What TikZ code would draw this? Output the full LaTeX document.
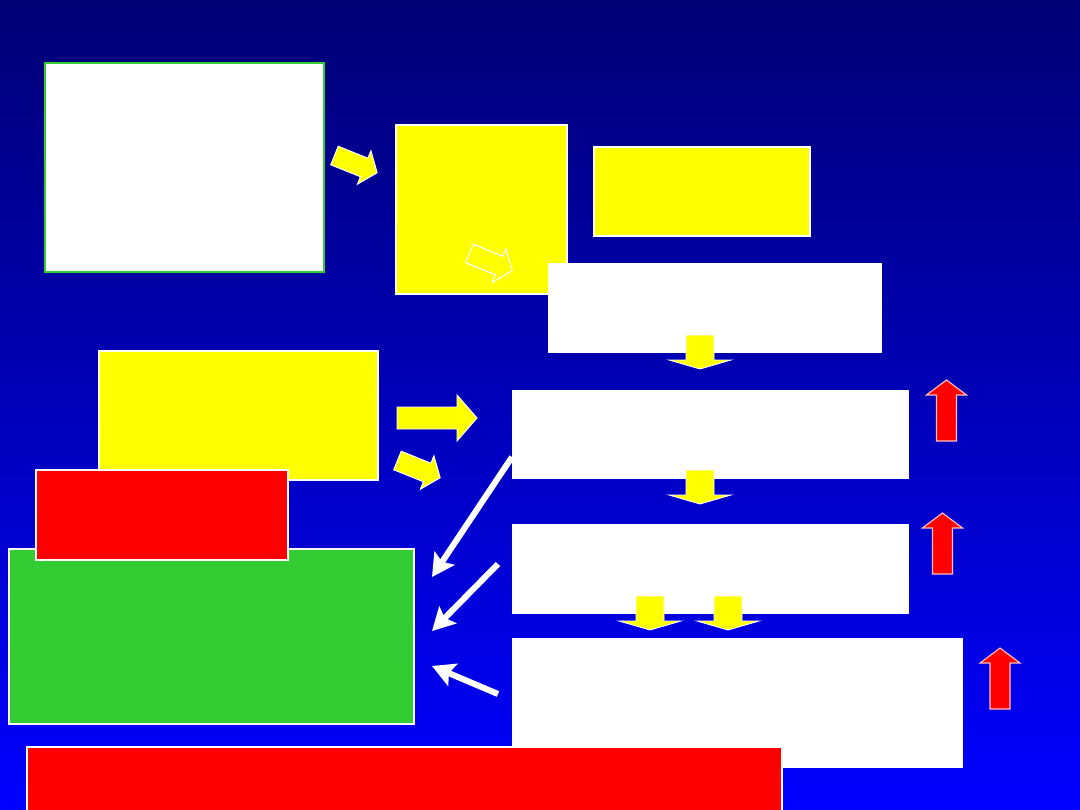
\documentclass[tikz,border=0pt]{standalone}
\usepackage{tikz}
\usetikzlibrary{calc, arrows.meta}
\definecolor{navytop}{RGB}{0,0,116}
\definecolor{bluebot}{RGB}{0,0,255}
\definecolor{leafgreen}{RGB}{51,204,51}
\definecolor{lemon}{RGB}{255,255,0}
\definecolor{signal}{RGB}{255,0,0}

\begin{document}
\begin{tikzpicture}[x=0.025cm, y=-0.025cm,
  box/.style={draw=white, line width=1.1pt},
  wline/.style={white, line width=4.3pt, -{Stealth[length=16pt, width=17pt, inset=3pt]}},
  slantfill/.pic={\filldraw[lemon, draw=white, line width=0.7pt] (0,-10)--(32,-10)--(32,-18)--(46,0)--(32,18)--(32,10)--(0,10)--cycle;},
  slantline/.pic={\draw[white, line width=0.8pt] (0,-10)--(32,-10)--(32,-18)--(46,0)--(32,18)--(32,10)--(0,10)--cycle;},
  downarr/.pic={\filldraw[lemon, draw=white, line width=0.6pt] (-14,0)--(14,0)--(14,25)--(31,25)--(0,34)--(-31,25)--(-14,25)--cycle;},
  uparr/.pic={\filldraw[signal, draw=white!75!signal, line width=0.8pt] (0,0)--(20,15)--(10,15)--(10,61)--(-10,61)--(-10,15)--(-20,15)--cycle;}]
  \useasboundingbox (0,0) rectangle (1080,810);
  \shade[top color=navytop, bottom color=bluebot] (0,0) rectangle (1080,810); %background
  % top row
  \coordinate (srcTL) at (45,63); %white box, green frame
  \coordinate (srcBR) at (324,272);
  \filldraw[fill=white, draw=leafgreen, line width=1.4pt] (srcTL) rectangle (srcBR);
  \coordinate (yelATL) at (396,125); %tall yellow box
  \coordinate (yelABR) at (567,294);
  \filldraw[box, fill=lemon] (yelATL) rectangle (yelABR);
  \coordinate (yelBTL) at (594,147); %wide yellow box
  \coordinate (yelBBR) at (810,236);
  \filldraw[box, fill=lemon] (yelBTL) rectangle (yelBBR);
  \pic[rotate=-22] at (334.5,155.5) {slantfill};
  \pic[rotate=-22] at (469.5,253.5) {slantline};
  % white column
  \coordinate (stepATL) at (548,263);
  \coordinate (stepABR) at (882,353);
  \fill[white] (stepATL) rectangle (stepABR);
  \coordinate (stepBTL) at (512,390);
  \coordinate (stepBBR) at (909,479);
  \fill[white] (stepBTL) rectangle (stepBBR);
  \coordinate (stepCTL) at (512,524);
  \coordinate (stepCBR) at (909,614);
  \fill[white] (stepCTL) rectangle (stepCBR);
  \coordinate (stepDTL) at (512,638);
  \coordinate (stepDBR) at (963,768);
  \fill[white] (stepDTL) rectangle (stepDBR);
  \pic at (700,335) {downarr};
  \pic at (700,470) {downarr};
  \pic at (650,596) {downarr};
  \pic at (728,596) {downarr};
  \pic at (946.5,380) {uparr};
  \pic at (942.5,513) {uparr};
  \pic at (1000,648) {uparr};
  % left stack
  \coordinate (yelCTL) at (99,351); %yellow box
  \coordinate (yelCBR) at (378,480);
  \filldraw[box, fill=lemon] (yelCTL) rectangle (yelCBR);
  \coordinate (grnTL) at (9,549); %green box
  \coordinate (grnBR) at (414,724);
  \filldraw[box, fill=leafgreen] (grnTL) rectangle (grnBR);
  \coordinate (redATL) at (36,470); %red box
  \coordinate (redABR) at (288,560);
  \filldraw[box, fill=signal] (redATL) rectangle (redABR);
  \filldraw[lemon, draw=white, line width=0.7pt] (397,407)--(457,407)--(457,395)--(477,418)--(457,441)--(457,429)--(397,429)--cycle; %right arrow
  \pic[rotate=-22] at (397.5,460.5) {slantfill};
  % white arrows into green box
  \coordinate (w1s) at (512,457);
  \coordinate (w1e) at (432,577);
  \coordinate (w2s) at (498,564);
  \coordinate (w2e) at (432,631);
  \coordinate (w3s) at (498,694);
  \coordinate (w3e) at (432,666);
  \draw[wline] (w1s)--(w1e);
  \draw[wline] (w2s)--(w2e);
  \draw[wline] (w3s)--(w3e);
  % bottom bar
  \coordinate (barTL) at (27,747);
  \coordinate (barBR) at (782,820);
  \filldraw[box, fill=signal] (barTL) rectangle (barBR);
\end{tikzpicture}
\end{document}
